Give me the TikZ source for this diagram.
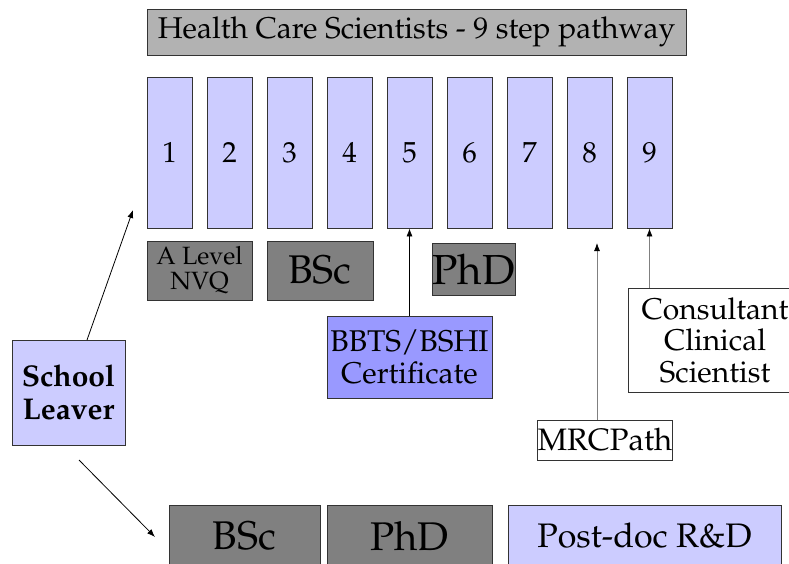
\documentclass[tikz,border=0pt]{standalone}
\usepackage[T1]{fontenc}
\usepackage{mathpazo}
\usetikzlibrary{arrows.meta}
\definecolor{lilac}{HTML}{CCCCFF}
\definecolor{blueish}{HTML}{9999FF}
\definecolor{darkbox}{HTML}{808080}
\definecolor{titlegray}{HTML}{B2B2B2}
\newcommand{\fsz}[1]{\fontsize{#1}{1.15\dimexpr#1pt\relax}\selectfont}
\tikzset{
  box/.style={draw=black!80, line width=0.8pt, inner sep=0pt, align=center},
  stepbox/.style={box, fill=lilac, minimum width=45pt, minimum height=151pt, font=\fsz{29}},
  darkstep/.style={box, fill=darkbox},
  plainbox/.style={box, fill=white},
  arr/.style={line width=0.8pt, -{Latex[length=8pt,width=6pt]}}
}
\begin{document}
\begin{tikzpicture}[x=1pt, y=-1pt]
        \useasboundingbox (0,0) rectangle (789,563);

        \node (title) at (416.5, 32) [box, fill=titlegray, minimum width=539pt, minimum height=46pt, font=\fsz{30}] {Health Care Scientists - 9 step pathway};

        \node (s-1) at (169.5, 152.5) [stepbox] {1};
        \node (s-2) at (229.5, 152.5) [stepbox] {2};
        \node (s-3) at (289.5, 152.5) [stepbox] {3};
        \node (s-4) at (349.5, 152.5) [stepbox] {4};
        \node (s-5) at (409.5, 152.5) [stepbox] {5};
        \node (s-6) at (469.5, 152.5) [stepbox] {6};
        \node (s-7) at (529.5, 152.5) [stepbox] {7};
        \node (s-8) at (589.5, 152.5) [stepbox] {8};
        \node (s-9) at (649.5, 152.5) [stepbox] {9};

        \node (alevel) at (199.5, 270.5) [darkstep, minimum width=105pt, minimum height=59pt, font=\fsz{25}] {A Level\\[-4pt]NVQ};
        \node (bsc-1) at (320, 270.5) [darkstep, minimum width=106pt, minimum height=59pt, font=\fsz{40}] {BSc};
        \node (phd-1) at (473.5, 269) [darkstep, minimum width=83pt, minimum height=52pt, font=\fsz{42}] {PhD};

        \node (bbts) at (409.5, 357) [box, fill=blueish, minimum width=165pt, minimum height=82pt, font=\fsz{30}] {BBTS/BSHI\\[-2pt]Certificate};
        \node (cons) at (715, 340) [plainbox, minimum width=174pt, minimum height=104pt, font=\fsz{30}] {Consultant\\[-3pt]Clinical\\[-3pt]Scientist};
        \node (mrc) at (605, 440) [plainbox, minimum width=134pt, minimum height=40pt, font=\fsz{31}] {MRCPath};

        \node (school) at (68.5, 392.5) [box, fill=lilac, minimum width=113pt, minimum height=105pt, font=\fsz{30}\bfseries] {School\\[-2pt]Leaver};

        \node (bsc-2) at (244.5, 536) [darkstep, minimum width=151pt, minimum height=62pt, font=\fsz{40}] {BSc};
        \node (phd-2) at (409.5, 536) [darkstep, minimum width=165pt, minimum height=62pt, font=\fsz{40}] {PhD};
        \node (postdoc) at (644.5, 536) [box, fill=lilac, minimum width=273pt, minimum height=62pt, font=\fsz{34}] {Post-doc R\&D};

        \coordinate (sl-up) at (87, 340);
        \coordinate (tip-1) at (133, 210);
        \coordinate (sl-down) at (79, 460);
        \coordinate (tip-2) at (155, 537);
        \coordinate (tip-8) at (597, 243);

        \draw[arr] (sl-up) -- (tip-1);
        \draw[arr] (sl-down) -- (tip-2);

        \draw[arr] (bbts.north) -- (s-5.south);
        \draw[arr, draw=darkbox, -{Latex[length=8pt,width=6pt,black]}] (mrc.north -| tip-8) -- (tip-8);
        \draw[arr, draw=darkbox, -{Latex[length=8pt,width=6pt,black]}] (cons.north -| s-9) -- (s-9.south);

    \end{tikzpicture}
\end{document}
